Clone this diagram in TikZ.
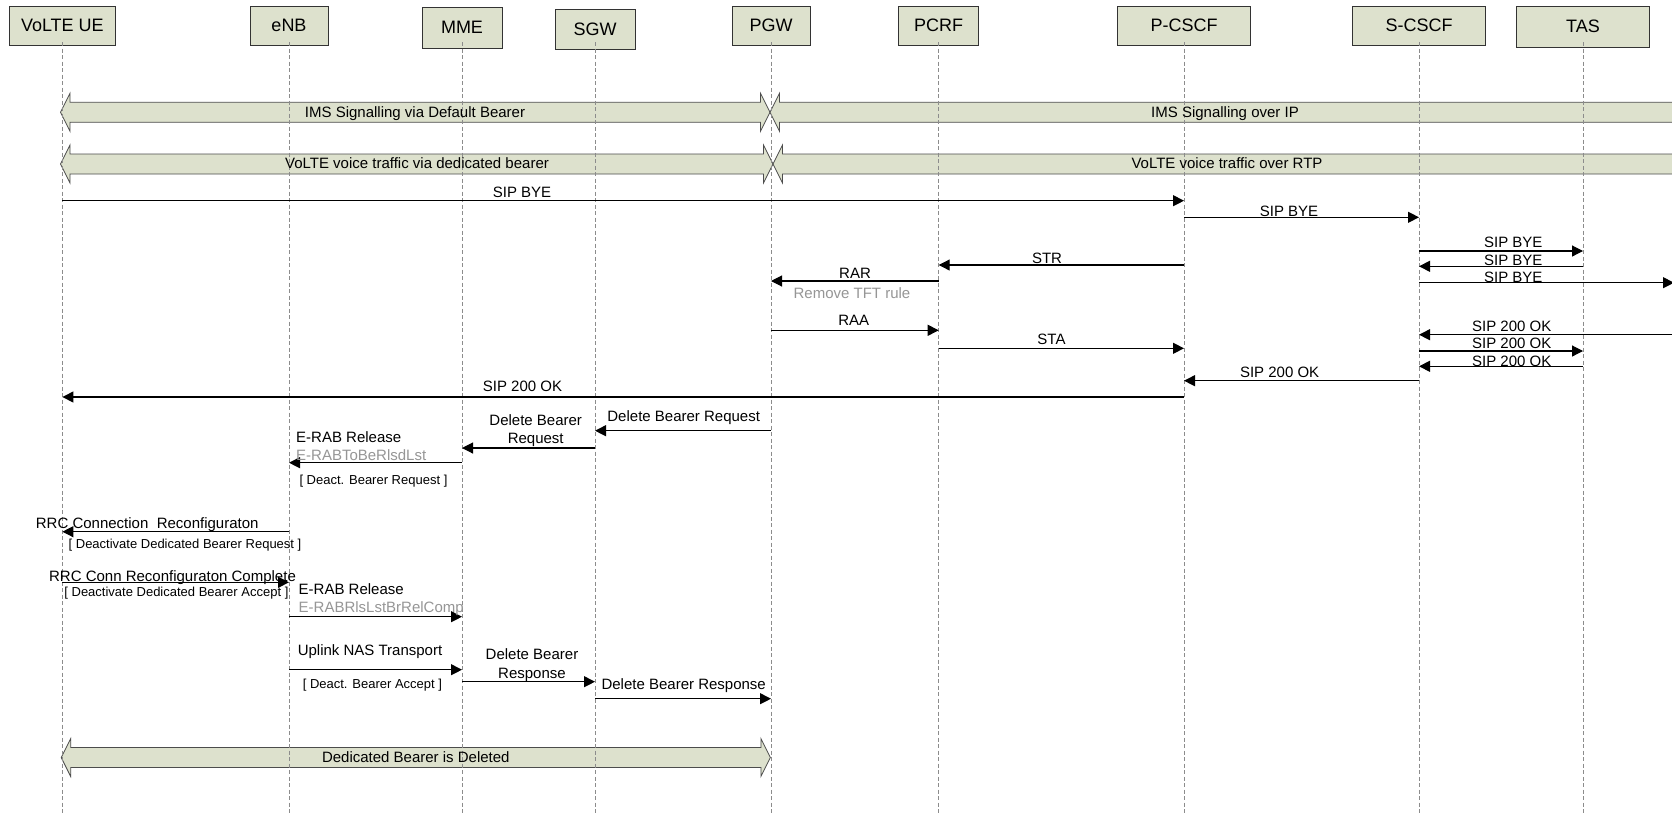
\documentclass[tikz,border=0pt]{standalone}
\usepackage{fontspec}
\setmainfont{Liberation Sans}
\usetikzlibrary{arrows.meta}
\definecolor{boxfill}{RGB}{221,225,205}
\definecolor{graytext}{RGB}{150,150,150}
\definecolor{lifegray}{RGB}{140,140,140}
\tikzset{
  actor/.style={draw=black!80, fill=boxfill, line width=0.8pt, minimum height=39pt, inner sep=0pt, font=\fontsize{18}{20}\selectfont},
  life/.style={draw=lifegray, dash pattern=on 4pt off 2.5pt, line width=0.7pt},
  msg/.style={line width=1.1pt, -{Triangle[length=11pt,width=11pt]}},
  lbl/.style={font=\fontsize{15}{17}\selectfont, inner sep=0pt, text height=10.7pt, text depth=0pt},
  glbl/.style={lbl, text=graytext},
  slbl/.style={font=\fontsize{13}{15}\selectfont, inner sep=0pt, text height=9.3pt, text depth=0pt},
  mlbl/.style={font=\fontsize{15}{18.3}\selectfont, inner sep=0pt, align=center},
  band/.style={draw=black!70, fill=boxfill, line width=0.8pt},
}
\newcommand{\bandarrow}[3]{%
  \draw[band] (#1,#3) -- ++(9.5,-19) -- ++(0,9) -- (#2-9.5,#3-10) -- ++(0,-9) -- (#2,#3)
    -- ++(-9.5,19) -- ++(0,-9) -- (#1+9.5,#3+10) -- ++(0,9) -- cycle;}
\begin{document}
\begin{tikzpicture}[x=1pt,y=-1pt]
\clip (0,0) rectangle (1672,815);
\fill[white] (0,0) rectangle (1672,815);

% actors
\node[actor, minimum width=105.6pt] (ue)    at (62.4,25.5)  {VoLTE UE};
\node[actor, minimum width=78pt]    (enb)   at (289,25.5)   {eNB};
\node[actor, minimum width=80pt, minimum height=41pt] (mme) at (462,27.8) {MME};
\node[actor, minimum width=80pt, minimum height=40pt] (sgw) at (595,29.2) {SGW};
\node[actor, minimum width=78pt]    (pgw)   at (771,25.5)   {PGW};
\node[actor, minimum width=80pt]    (pcrf)  at (938.7,25.5) {PCRF};
\node[actor, minimum width=133pt]   (pcscf) at (1184,25.5)  {P-CSCF};
\node[actor, minimum width=133pt]   (scscf) at (1419,25.5)  {S-CSCF};
\node[actor, minimum width=133pt, minimum height=41pt] (tas) at (1583,26.5) {TAS};
\coordinate (offR) at (1674,0);

% bands
\bandarrow{60.5}{770}{112.3}
\bandarrow{770}{1682}{112.3}
\bandarrow{60.5}{773}{164}
\bandarrow{773}{1682}{164}
\bandarrow{61.2}{770.4}{757.5}

% lifelines
\foreach \a in {ue,enb,mme,sgw,pgw,pcrf,pcscf,scscf,tas}
  \draw[life] (\a |- 0,42) -- (\a |- 0,815);

% band texts
\node[lbl] (b1) at (415,112.5) {IMS Signalling via Default Bearer};
\node[lbl] (b2) at (1225,112.5) {IMS Signalling over IP};
\node[lbl] (b3) at (417,163.5) {VoLTE voice traffic via dedicated bearer};
\node[lbl] (b4) at (1227,163.5) {VoLTE voice traffic over RTP};
\node[lbl] (b5) at (415.8,757) {Dedicated Bearer is Deleted};

% messages
\draw[msg] (ue |- 0,200.7) -- (pcscf |- 0,200.7);
\node[lbl] (m1) at (522,192.3) {SIP BYE};
\draw[msg] (pcscf |- 0,217.3) -- (scscf |- 0,217.3);
\node[lbl] (m2) at (1289,210.7) {SIP BYE};
\draw[msg] (scscf |- 0,251) -- (tas |- 0,251);
\node[lbl] (m3) at (1513.3,242.3) {SIP BYE};
\draw[msg] (pcscf |- 0,265) -- (pcrf |- 0,265);
\node[lbl] (m4) at (1047,257.7) {STR};
\draw[msg] (tas |- 0,266.3) -- (scscf |- 0,266.3);
\node[lbl] (m5) at (1513.3,260) {SIP BYE};
\draw[msg] (pcrf |- 0,281) -- (pgw |- 0,281);
\node[lbl] (m6) at (855,273.3) {RAR};
\node[glbl] (m6b) at (852,293.3) {Remove TFT rule};
\draw[msg] (scscf |- 0,282.7) -- (offR |- 0,282.7);
\node[lbl] (m7) at (1513.3,276.7) {SIP BYE};
\draw[msg] (pgw |- 0,330.3) -- (pcrf |- 0,330.3);
\node[lbl] (m8) at (853.7,320) {RAA};
\draw[msg] (offR |- 0,334.7) -- (scscf |- 0,334.7);
\node[lbl] (m9) at (1511.7,325.7) {SIP 200 OK};
\draw[msg] (pcrf |- 0,348.3) -- (pcscf |- 0,348.3);
\node[lbl] (m10) at (1051.5,339) {STA};
\draw[msg] (scscf |- 0,351) -- (tas |- 0,351);
\node[lbl] (m11) at (1511.7,343.3) {SIP 200 OK};
\draw[msg] (tas |- 0,366.3) -- (scscf |- 0,366.3);
\node[lbl] (m12) at (1511.7,361) {SIP 200 OK};
\draw[msg] (scscf |- 0,380.7) -- (pcscf |- 0,380.7);
\node[lbl] (m13) at (1279.6,371.7) {SIP 200 OK};
\draw[msg] (pcscf |- 0,397) -- (ue |- 0,397);
\node[lbl] (m14) at (522.5,386) {SIP 200 OK};
\draw[msg] (pgw |- 0,430.7) -- (sgw |- 0,430.7);
\node[lbl] (m15) at (683.7,416) {Delete Bearer Request};
\draw[msg] (sgw |- 0,448) -- (mme |- 0,448);
\node[mlbl] (m16) at (535.7,430.7) {Delete Bearer\\Request};
\draw[msg] (mme |- 0,462.7) -- (enb |- 0,462.7);
\node[lbl, anchor=west] (m17) at (296,436.7) {E-RAB Release};
\node[glbl, anchor=west] (m17b) at (296,455) {E-RABToBeRlsdLst};
\node[slbl, anchor=west] (m17c) at (299.3,480) {[ Deact. Bearer Request ]};
\draw[msg] (enb |- 0,531.7) -- (ue |- 0,531.7);
\node[lbl, anchor=west] (m18) at (35.7,523.3) {RRC Connection\ \ Reconfiguraton};
\node[slbl] (m18b) at (185,544.3) {[ Deactivate Dedicated Bearer Request ]};
\draw[msg] (ue |- 0,582.3) -- (enb |- 0,582.3);
\node[lbl] (m19) at (172.5,575.7) {RRC Conn Reconfiguraton Complete};
\node[slbl] (m19b) at (176.4,592.3) {[ Deactivate Dedicated Bearer Accept ]};
\draw[msg] (enb |- 0,616.7) -- (mme |- 0,616.7);
\node[lbl, anchor=west] (m20) at (298.5,589) {E-RAB Release};
\node[glbl, anchor=west] (m20b) at (298.5,606.7) {E-RABRlsLstBrRelComp};
\draw[msg] (enb |- 0,669.7) -- (mme |- 0,669.7);
\node[lbl] (m21) at (370,650) {Uplink NAS Transport};
\node[slbl] (m21b) at (372.4,684) {[ Deact. Bearer Accept ]};
\draw[msg] (mme |- 0,681.7) -- (sgw |- 0,681.7);
\node[mlbl] (m22) at (532,665) {Delete Bearer\\Response};
\draw[msg] (sgw |- 0,698.7) -- (pgw |- 0,698.7);
\node[lbl] (m23) at (683.7,684.3) {Delete Bearer Response};
\end{tikzpicture}
\end{document}
